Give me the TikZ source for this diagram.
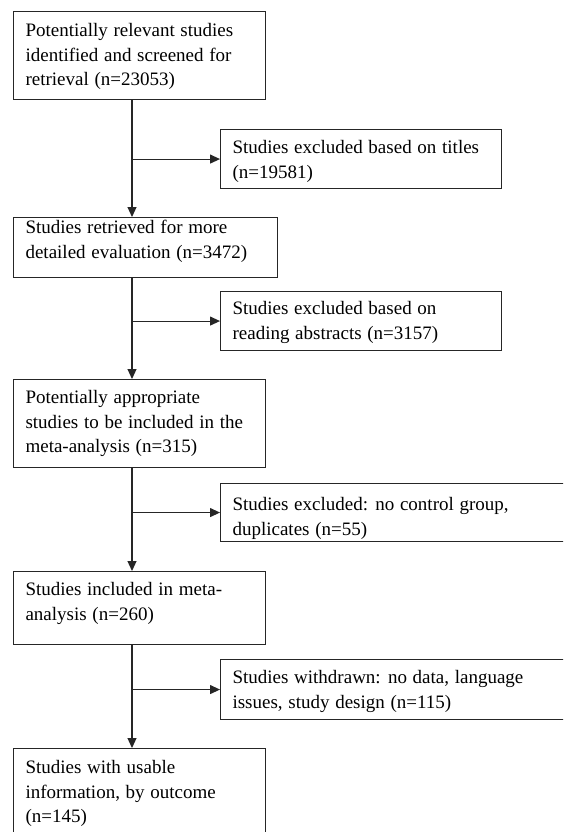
\documentclass[tikz,border=0pt]{standalone}
\usepackage{fontspec}
\setmainfont{Liberation Serif}
\usetikzlibrary{arrows.meta}
\newcommand\flowtext[4]{% width, height, first-baseline offset, text
  \parbox[t][#2][t]{#1}{\fontsize{19pt}{24.5pt}\selectfont\spaceskip=0.3em plus 0.1em minus 0.05em
    \leftskip=12pt\rightskip=0pt plus 1fil\parindent=0pt
    \vspace*{\dimexpr#3-17.15pt\relax}\strut#4}}
\tikzset{
  flow/.style={draw=black!85, line width=1.1pt, inner sep=0pt, anchor=north west, text=black},
  arr/.style={draw=black!85, line width=1.1pt, -{Triangle[length=10pt,width=9pt]}},
  link/.style={draw=black!85, line width=1.1pt}
}
\begin{document}
\begin{tikzpicture}[x=1pt,y=-1pt]
\useasboundingbox (0,0) rectangle (563,832);
\clip (0,0) rectangle (563,832);
\fill[white] (0,0) rectangle (563,832);
\coordinate (spine) at (132,0);
\node[flow] (b1) at (13,11) {\flowtext{252pt}{88pt}{25pt}{Potentially relevant studies\\identified and screened for\\retrieval (n=23053)}};
\node[flow] (e1) at (220,129) {\flowtext{281pt}{59pt}{24pt}{Studies excluded based on titles\\(n=19581)}};
\node[flow] (b2) at (13,217) {\flowtext{264pt}{60pt}{16pt}{Studies retrieved for more\\detailed evaluation (n=3472)}};
\node[flow] (e2) at (220,291) {\flowtext{281pt}{59pt}{23pt}{Studies excluded based on\\reading abstracts (n=3157)}};
\node[flow] (b3) at (13,379) {\flowtext{252pt}{88pt}{24pt}{Potentially appropriate\\studies to be included in the\\meta-analysis (n=315)}};
\node[flow] (e3) at (220,483) {\flowtext{360pt}{58pt}{27pt}{Studies excluded: no control group,\\duplicates (n=55)}};
\node[flow] (b4) at (13,571) {\flowtext{252pt}{73pt}{24pt}{Studies included in meta-\\analysis (n=260)}};
\node[flow] (e4) at (220,659) {\flowtext{360pt}{60pt}{24pt}{Studies withdrawn: no data, language\\issues, study design (n=115)}};
\node[flow] (b5) at (13,748) {\flowtext{252pt}{100pt}{25pt}{Studies with usable\\information, by outcome\\(n=145)}};
\draw[arr] (b1.south -| spine) -- (b2.north -| spine);
\draw[arr] (b2.south -| spine) -- (b3.north -| spine);
\draw[arr] (b3.south -| spine) -- (b4.north -| spine);
\draw[arr] (b4.south -| spine) -- (b5.north -| spine);
\draw[arr] (e1.west -| spine) -- (e1.west);
\draw[arr] (e2.west -| spine) -- (e2.west);
\draw[arr] (e3.west -| spine) -- (e3.west);
\draw[arr] (e4.west -| spine) -- (e4.west);
\end{tikzpicture}
\end{document}
